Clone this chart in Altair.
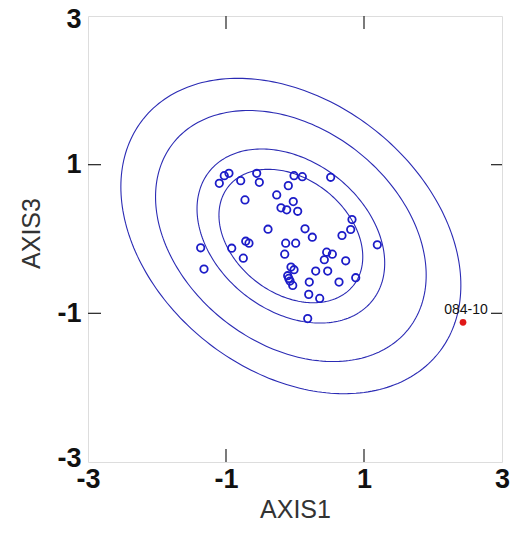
import altair as alt
import numpy as np
import pandas as pd

# ---- data ----
pt_x = [-1.097, -1.025, -0.957, -0.787, -0.555, -0.517, -0.725, -0.265, -0.097, -0.014,
        0.106, 0.517, -0.025, -0.203, -0.120, 0.039, -0.391, 0.145, 0.251, 0.826,
        0.807, 0.681, 1.193, -1.367, -0.917, -0.714, -0.667, -0.749, -1.319, -0.135,
        0.010, -0.149, 0.459, 0.541, 0.425, 0.735, -0.058, -0.014, 0.300, 0.474,
        -0.106, -0.072, -0.033, -0.090, 0.207, 0.638, 0.880, 0.199, 0.358, 0.184]
pt_y = [0.749, 0.852, 0.883, 0.785, 0.883, 0.762, 0.526, 0.593, 0.718, 0.852,
        0.839, 0.830, 0.503, 0.419, 0.392, 0.373, 0.132, 0.137, 0.024, 0.262,
        0.128, 0.047, -0.078, -0.118, -0.124, -0.030, -0.056, -0.258, -0.405, -0.056,
        -0.056, -0.204, -0.177, -0.204, -0.279, -0.293, -0.378, -0.413, -0.432, -0.432,
        -0.494, -0.566, -0.624, -0.530, -0.580, -0.580, -0.521, -0.745, -0.799, -1.071]

outlier_x = [2.435]
outlier_y = [-1.121]
outlier_label = ["084-10"]

ellipse_center = [-0.06, 0.04]
ellipse_shape = [[6.07, -1.63], [-1.63, 4.50]]   # outer ellipse matrix
ellipse_scales = [0.423, 0.552, 0.796, 1.0]

tick_values = [-3, -1, 1, 3]
inner_ticks = [-1, 1]

W, H = 414, 446

# ---- build tables ----
pts = pd.DataFrame({"x": pt_x, "y": pt_y})
out = pd.DataFrame({"x": outlier_x, "y": outlier_y, "label": outlier_label})

L = np.linalg.cholesky(np.array(ellipse_shape))
t = np.linspace(0, 2 * np.pi, 241)
unit = np.vstack([np.cos(t), np.sin(t)])
rows = []
for k, s in enumerate(ellipse_scales):
    xy = L @ unit * s
    for i in range(len(t)):
        rows.append({"e": k, "i": i,
                     "x": ellipse_center[0] + xy[0, i],
                     "y": ellipse_center[1] + xy[1, i]})
ell = pd.DataFrame(rows)
ticks = pd.DataFrame({"v": inner_ticks})

xs = alt.Scale(domain=[-3, 3], nice=False, zero=False)
ys = alt.Scale(domain=[-3, 3], nice=False, zero=False)

lbl_expr = "datum.value < 0 ? '-' + toString(abs(datum.value)) : toString(datum.value)"

xaxis = alt.Axis(values=tick_values, ticks=False, domain=False, grid=False,
                 labelFontSize=27, labelFontWeight="bold", labelColor="#111",
                 labelPadding=4, labelFlush=False, labelExpr=lbl_expr,
                 labelOverlap=False,
                 title="AXIS1", titleFontSize=25, titleFontWeight="normal",
                 titleColor="#333", titlePadding=5)
yaxis = alt.Axis(values=tick_values, ticks=False, domain=False, grid=False,
                 labelFontSize=27, labelFontWeight="bold", labelColor="#111",
                 labelPadding=7, labelFlush=True, labelFlushOffset=10,
                 labelExpr=lbl_expr, labelOverlap=False,
                 title="AXIS3", titleFontSize=25, titleFontWeight="normal",
                 titleColor="#333", titlePadding=12, titleY=217)

lines = alt.Chart(ell).mark_line(color="#2b2bb4", strokeWidth=1.1).encode(
    x=alt.X("x:Q", scale=xs, axis=xaxis),
    y=alt.Y("y:Q", scale=ys, axis=yaxis),
    detail="e:N",
    order="i:Q",
)

circles = alt.Chart(pts).mark_point(shape="circle", filled=False, color="#1c1cc8",
                                    size=55, strokeWidth=1.8, opacity=1).encode(
    x=alt.X("x:Q", scale=xs), y=alt.Y("y:Q", scale=ys))

red = alt.Chart(out).mark_point(shape="circle", filled=True, color="#e01818",
                                size=45, opacity=1).encode(
    x=alt.X("x:Q", scale=xs), y=alt.Y("y:Q", scale=ys))

lab = alt.Chart(out).mark_text(font="Liberation Sans", fontSize=14, dy=-12, dx=3,
                               color="#111").encode(
    x=alt.X("x:Q", scale=xs), y=alt.Y("y:Q", scale=ys), text="label:N")

tk_top = alt.Chart(ticks).mark_rule(color="#333", strokeWidth=1.3).encode(
    x=alt.X("v:Q", scale=xs), y=alt.value(0), y2=alt.value(13))
tk_bot = alt.Chart(ticks).mark_rule(color="#333", strokeWidth=1.3).encode(
    x=alt.X("v:Q", scale=xs), y=alt.value(H), y2=alt.value(H - 13))
tk_left = alt.Chart(ticks).mark_rule(color="#333", strokeWidth=1.3).encode(
    y=alt.Y("v:Q", scale=ys), x=alt.value(0), x2=alt.value(13))
tk_right = alt.Chart(ticks).mark_rule(color="#333", strokeWidth=1.3).encode(
    y=alt.Y("v:Q", scale=ys), x=alt.value(W), x2=alt.value(W - 11))

chart = alt.layer(lines, circles, red, lab, tk_top, tk_bot, tk_left, tk_right).properties(
    width=W, height=H,
    autosize=alt.AutoSizeParams(type="none"),
    padding={"left": 88, "top": 16, "right": 23, "bottom": 71},
).configure_view(stroke="#333", strokeWidth=1.5).configure(
    font="Liberation Sans", background="white")

chart.save("out.html", embed_options={"renderer": "svg", "actions": False})
